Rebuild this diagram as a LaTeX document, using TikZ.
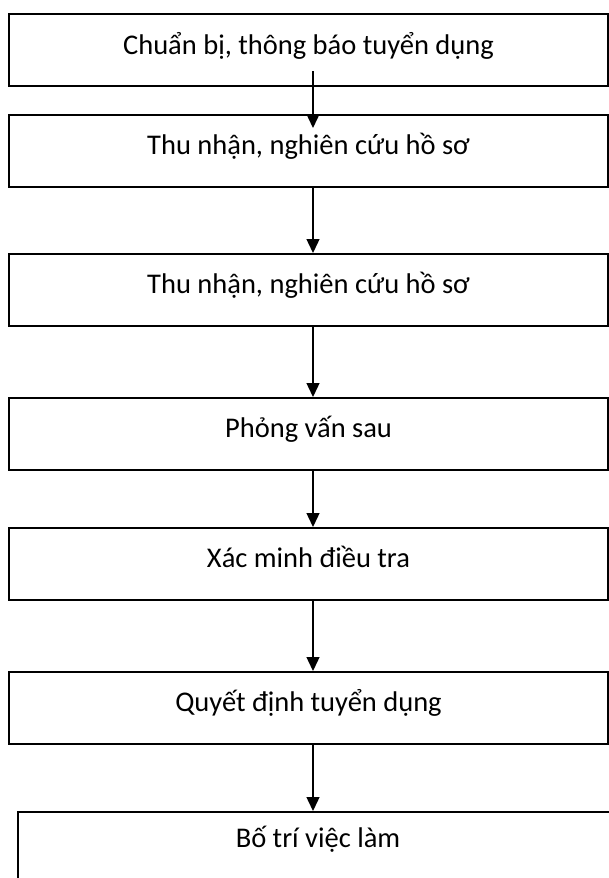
\documentclass[tikz,border=0pt]{standalone}
\usepackage{fontspec}
\setmainfont{Carlito}
\usetikzlibrary{arrows.meta}
\begin{document}
\begin{tikzpicture}[x=1pt,y=-1pt,
    stepbox/.style={draw, line width=1.6pt, rectangle, anchor=north,
      minimum width=599pt, inner xsep=0pt, inner ysep=0pt,
      text height=40pt, text depth=32pt, font=\fontsize{28.5}{32}\selectfont},
    flow/.style={-{Triangle[width=13pt,length=14pt]}, line width=1.4pt}]
  \clip (0,0) rectangle (609,878);
  \node[stepbox, line width=2pt] (b1) at (308.5,13) {Chuẩn bị, thông báo tuyển dụng};
  \node[stepbox] (b2) at (308.5,114) {Thu nhận, nghiên cứu hồ sơ};
  \node[stepbox] (b3) at (308.5,253) {Thu nhận, nghiên cứu hồ sơ};
  \node[stepbox] (b4) at (308.5,397) {Phỏng vấn sau};
  \node[stepbox] (b5) at (308.5,527) {Xác minh điều tra};
  \node[stepbox] (b6) at (308.5,671) {Quyết định tuyển dụng};
  \node[stepbox, minimum width=600pt, text height=36pt, text depth=40pt] (b7) at (318,811) {Bố trí việc làm};
  \coordinate (ax) at (313,0);
  \draw[flow] ([yshift=16pt]ax |- b1.south) -- ([yshift=-14pt]ax |- b2.north);
  \foreach \a/\b in {b2/b3,b3/b4,b4/b5,b5/b6,b6/b7}
    \draw[flow] (ax |- \a.south) -- (ax |- \b.north);
\end{tikzpicture}
\end{document}
